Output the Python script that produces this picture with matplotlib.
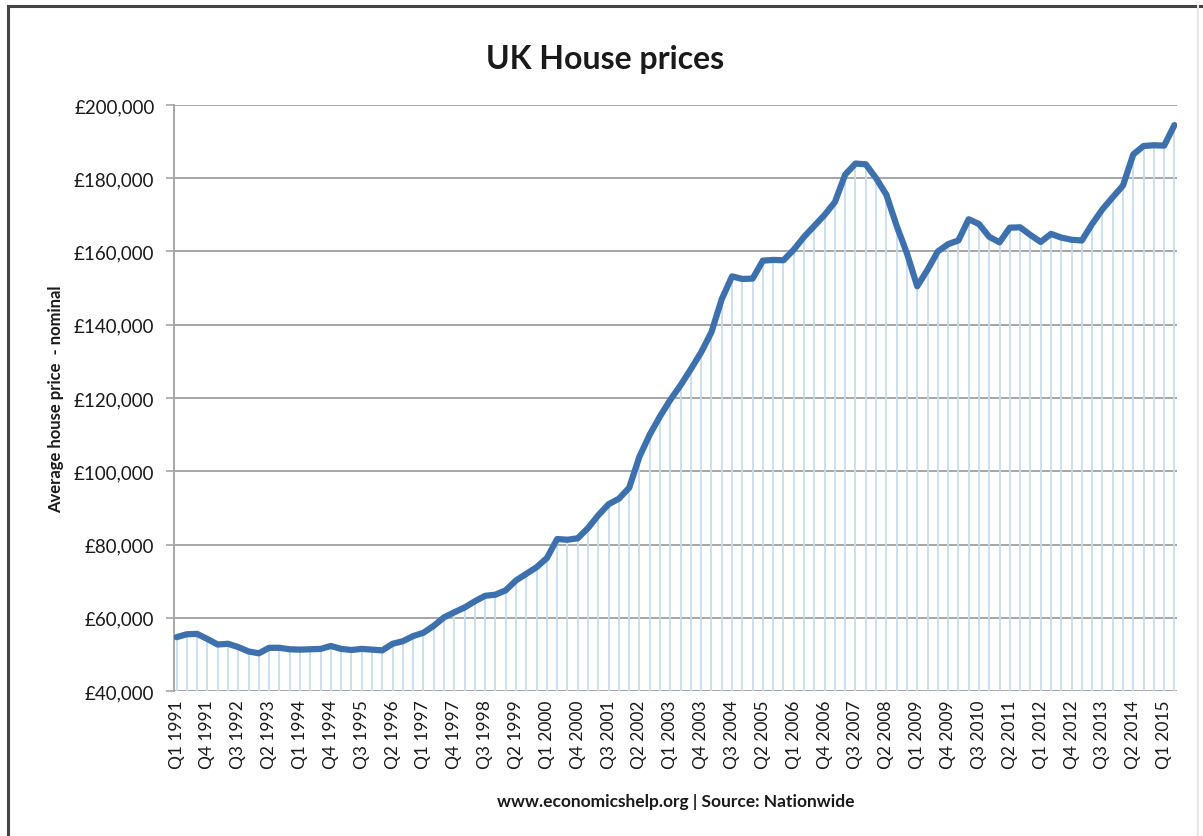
import matplotlib.pyplot as plt
from matplotlib.lines import Line2D
from matplotlib.ticker import FuncFormatter

# Nationwide average house price, quarterly, Q1 1991 .. Q2 2015
prices = [
    54700, 55500, 55600, 54200, 52700, 52900, 52000, 50800, 50300, 51800,
    51800, 51400, 51300, 51400, 51500, 52300, 51500, 51200, 51500, 51300,
    51100, 52900, 53600, 55000, 55900, 57800, 60100, 61500, 62800, 64500,
    66000, 66300, 67500, 70200, 72000, 73800, 76300, 81500, 81300, 81700,
    84500, 88000, 91000, 92500, 95500, 104000, 110000, 115000, 119500, 123500,
    127900, 132500, 138000, 147000, 153200, 152500, 152600, 157500, 157700, 157600,
    160500, 164000, 167000, 170000, 173500, 181000, 184000, 183800, 180000, 175500,
    167000, 159500, 150500, 155000, 160000, 162000, 163000, 168800, 167500, 164000,
    162500, 166500, 166600, 164500, 162600, 164800, 163800, 163200, 163000, 167500,
    171500, 174800, 178000, 186500, 188800, 189000, 188900, 194500,
]
first_year = 1991
quarters = [f"Q{i % 4 + 1} {first_year + i // 4}" for i in range(len(prices))]
label_step = 3

LINE_C = "#3D71AE"
DROP_C = "#C9DDEC"
GRID_C = "#A6A6A6"
TXT_C = "#1A1A1A"
FONT = ["Lato", "DejaVu Sans"]

fig = plt.figure(figsize=(12.03, 8.37), dpi=100)
fig.patch.set_facecolor("white")
ax = fig.add_axes([0.1446, 0.1732, 0.8342, 0.7002])

x = list(range(len(prices)))
ax.vlines(x, 40000, prices, color=DROP_C, lw=1.3, zorder=1)
ax.plot(x, prices, color=LINE_C, lw=4.5, solid_capstyle="round",
        solid_joinstyle="round", zorder=3)

ax.set_ylim(40000, 200000)
ax.set_xlim(-0.25, len(prices) - 0.7)
ax.set_yticks(range(40000, 200001, 20000))
ax.yaxis.set_major_formatter(FuncFormatter(lambda v, _: f"£{v:,.0f}"))
ax.grid(axis="y", color=GRID_C, lw=1.4, zorder=0)
ax.set_axisbelow(True)

ax.set_xticks(x[::label_step])
ax.set_xticklabels(quarters[::label_step], rotation=90, family=FONT,
                   fontsize=12.5, color=TXT_C)
for lab in ax.get_yticklabels():
    lab.set_family(FONT)
    lab.set_fontsize(13.5)
    lab.set_color(TXT_C)
ax.tick_params(axis="x", length=0, pad=6)
ax.tick_params(axis="y", length=6, width=1.2, color=GRID_C, pad=8)

for side in ("top", "right", "bottom"):
    ax.spines[side].set_visible(False)
ax.spines["left"].set_color(GRID_C)
ax.spines["left"].set_linewidth(1.4)

ax.set_ylabel("Average house price  - nominal", family=FONT, fontsize=12,
              fontweight="bold", color=TXT_C, labelpad=7)
ax.set_xlabel("www.economicshelp.org | Source: Nationwide", family=FONT,
              fontsize=12.5, fontweight="bold", color=TXT_C, labelpad=18)

fig.text(0.503, 0.929, "UK House prices", ha="center", va="center",
         family=FONT, fontsize=23, fontweight="bold", color=TXT_C)

# chart-area border (left and top edges visible in the original)
fig.add_artist(Line2D([0.0065, 0.0065], [0.0, 0.992], transform=fig.transFigure,
                      color="#444444", lw=2.2))
fig.add_artist(Line2D([0.0065, 1.0], [0.992, 0.992], transform=fig.transFigure,
                      color="#444444", lw=2.2))
fig.add_artist(Line2D([0.996, 0.996], [0.0, 0.992], transform=fig.transFigure,
                      color="#E6E6E6", lw=1.5))

fig.savefig("out.png", dpi=100, facecolor="white")
